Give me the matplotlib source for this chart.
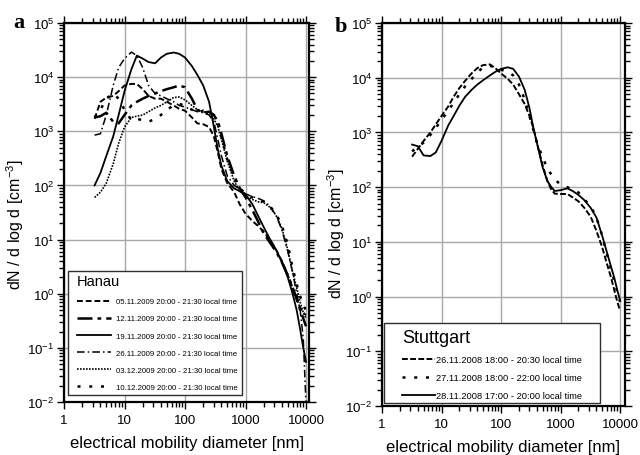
"""Particle number size distributions, Hanau (a) and Stuttgart (b)."""

import matplotlib
matplotlib.use("Agg")
import matplotlib.pyplot as plt
from matplotlib.patches import Rectangle

plt.rcParams["font.family"] = ["Liberation Sans", "DejaVu Sans"]
plt.rcParams["mathtext.fontset"] = "custom"
plt.rcParams["mathtext.rm"] = "Liberation Sans"

# --- panel a: Hanau -------------------------------------------------------
diam_a = [3.2, 4, 5, 6.5, 8, 10, 13, 16, 20, 25, 32, 40, 50, 65, 80, 100, 130,
          160, 200, 250, 300, 350, 400, 500, 650, 800, 1000, 1300, 1600, 2000,
          2500, 3200, 4000, 5000, 6000, 7000, 8000, 9000, 10000]

hanau_0511 = [1700, 3500, 4200, 4500, 5500, 7000, 7500, 7500, 6000, 4500, 4000,
              4000, 3500, 3000, 2600, 2400, 1800, 1400, 1350, 1200, 800, 400,
              200, 110, 75, 45, 30, 22, 18, 14, 10, 6.5, 4, 2.2, 1.3, 0.8,
              0.55, 0.45, 0.4]
hanau_1211 = [1800, 1900, 2200, 1500, 1400, 2000, 3000, 3500, 4000, 4500, 5000,
              5500, 6000, 6500, 7000, 6500, 4000, 2500, 2200, 2300, 2000, 1500,
              900, 350, 150, 90, 60, 35, 22, 13, 9, 6, 3.8, 2.2, 1.3, 0.8, 0.5,
              0.35, 0.25]
hanau_1911 = [100, 170, 350, 800, 2000, 5500, 14000, 25000, 22000, 19000, 18000,
              23000, 27000, 28500, 27000, 23000, 16000, 11000, 7000, 3500, 1200,
              450, 230, 120, 88, 78, 68, 45, 28, 17, 10.5, 6.5, 3.8, 2.0, 1.0,
              0.5, 0.22, 0.1, 0.055]
hanau_2611 = [850, 900, 2000, 7000, 15000, 22000, 29000, 25000, 15000, 7000,
              5000, 4500, 4000, 3500, 3000, 2800, 2500, 2300, 2200, 2000, 1500,
              700, 350, 150, 100, 85, 70, 62, 58, 52, 42, 28, 15, 6, 2.5, 1.0,
              0.5, 0.15, 0.009]
hanau_0312 = [60, 75, 110, 250, 600, 1200, 1800, 1900, 2000, 2300, 2700, 3000,
              3500, 4200, 4300, 3800, 3000, 2500, 2300, 2100, 1700, 1200, 700,
              280, 120, 80, 63, 55, 50, 48, 40, 28, 16, 6.5, 2.5, 1.3, 0.7,
              0.45, 0.35]
hanau_1012 = [1800, 2500, 4000, 5000, 4000, 2500, 1600, 1700, 1600, 1500, 1700,
              2000, 2500, 3000, 3200, 3000, 2500, 2200, 2400, 2200, 2000, 1400,
              800, 300, 140, 90, 70, 60, 55, 50, 42, 30, 18, 8, 3, 1.5, 0.9,
              0.6, 0.5]

labels_a = ["05.11.2009 20:00 - 21:30 local time",
            "12.11.2009 20:00 - 21:30 local time",
            "19.11.2009 20:00 - 21:30 local time",
            "26.11.2009 20:00 - 21:30 local time",
            "03.12.2009 20:00 - 21:30 local time",
            "10.12.2009 20:00 - 21:30 local time"]

# --- panel b: Stuttgart ---------------------------------------------------
diam_b = [3.2, 4, 5, 6.5, 8, 10, 13, 16, 20, 25, 32, 40, 50, 65, 80, 100, 130,
          160, 200, 250, 300, 350, 400, 500, 600, 700, 800, 1000, 1300, 1600,
          2000, 2500, 3200, 4000, 5000, 6000, 7000, 8000, 9000, 10000]

stutt_2611 = [360, 500, 700, 1000, 1400, 2000, 3000, 4500, 6500, 8800, 12000,
              15000, 17000, 17500, 15000, 12000, 9500, 7500, 5000, 3300, 2000,
              1200, 650, 250, 130, 90, 76, 75, 75, 65, 55, 42, 29, 16, 8, 4,
              2.3, 1.3, 0.8, 0.55]
stutt_2711 = [450, 550, 650, 900, 1200, 1700, 2500, 3500, 5000, 7000, 9500,
              12500, 15500, 16500, 15500, 14000, 13000, 11000, 7500, 4000,
              2000, 1100, 650, 350, 220, 170, 140, 110, 100, 90, 80, 60, 45,
              28, 13, 6, 3.2, 1.9, 1.2, 0.8]
stutt_2811 = [600, 560, 380, 370, 430, 700, 1350, 2000, 3100, 4500, 6000, 7500,
              9000, 11000, 12800, 14500, 15500, 14500, 10500, 6000, 2800, 1200,
              650, 230, 130, 100, 85, 88, 95, 85, 72, 58, 42, 28, 13, 6.5, 3.6,
              2.2, 1.3, 0.85]

labels_b = ["26.11.2008 18:00 - 20:30 local time",
            "27.11.2008 18:00 - 22:00 local time",
            "28.11.2008 17:00 - 20:00 local time"]

x_ticks = [1, 10, 100, 1000, 10000]
x_tick_labels = ["1", "10", "100", "1000", "10000"]


def style_axes(ax, xmax, ylab_xy):
    ax.set_xscale("log")
    ax.set_yscale("log")
    ax.set_xlim(1, xmax)
    ax.set_ylim(1e-2, 1e5)
    ax.set_xticks(x_ticks, labels=x_tick_labels)
    ax.set_yticks([10.0 ** k for k in range(-2, 6)])
    ax.grid(True, which="major", color="#a8a8a8", lw=1.0)
    ax.set_axisbelow(True)
    for s in ax.spines.values():
        s.set_linewidth(1.6)
    ax.tick_params(which="both", direction="out", top=True, right=True,
                   labelsize=9.5, width=1.0, colors="black")
    ax.tick_params(which="major", length=5)
    ax.tick_params(which="minor", length=3.5)
    ax.tick_params(axis="x", pad=4)
    ax.tick_params(axis="y", pad=2)
    ax.set_xlabel("electrical mobility diameter [nm]", fontsize=12, labelpad=6)
    ax.set_ylabel("dN / d log d [cm$^{-3}$]", fontsize=11.5)
    ax.yaxis.set_label_coords(*ylab_xy)


def boxed(fig, ax, leg, pads):
    """White box with a thin frame around a frameless legend (pads in px)."""
    fig.canvas.draw()
    bb = leg.get_window_extent()
    left, right, top, bottom = pads
    x0, y0 = bb.x0 - left, bb.y0 - bottom
    w, h = bb.width + left + right, bb.height + top + bottom
    fw, fh = fig.bbox.width, fig.bbox.height
    rect = Rectangle((x0 / fw, y0 / fh), w / fw, h / fh,
                     transform=fig.transFigure, facecolor="white",
                     edgecolor="#303030", lw=1.0, zorder=4.5, clip_on=False)
    ax.add_artist(rect)


fig = plt.figure(figsize=(6.4, 4.56), dpi=100)

# panel a
ax1 = fig.add_axes([64 / 640, 1 - 403 / 456, 245 / 640, 379 / 456])
style_axes(ax1, 11200, (-0.155, 0.47))
ax1.plot(diam_a, hanau_0511, color="black", lw=1.4, ls=(0, (3, 1.5)), label=labels_a[0])
ax1.plot(diam_a, hanau_1211, color="black", lw=1.8, ls=(0, (6, 2, 1.5, 2)), label=labels_a[1])
ax1.plot(diam_a, hanau_1911, color="black", lw=1.3, ls="-", label=labels_a[2])
ax1.plot(diam_a, hanau_2611, color="black", lw=1.1, ls=(0, (5, 2, 1, 2)), label=labels_a[3])
ax1.plot(diam_a, hanau_0312, color="black", lw=1.2, ls=(0, (1, 0.8)), label=labels_a[4])
ax1.plot(diam_a, hanau_1012, color="black", lw=1.8, ls=(0, (1.2, 3.5)), label=labels_a[5])
leg1 = ax1.legend(loc="upper left", bbox_to_anchor=(0.053, 0.337), title="Hanau",
                  fontsize=5.6, title_fontsize=10.5, alignment="left",
                  frameon=False, handlelength=4.4, handletextpad=0.6,
                  labelspacing=1.24, borderpad=0, borderaxespad=0)
boxed(fig, ax1, leg1, (9, 4, 3, 4))
fig.text(13 / 640, 1 - 28 / 456, "a", fontsize=16, fontweight="bold",
         family="Liberation Serif", va="baseline")

# panel b
ax2 = fig.add_axes([382 / 640, 1 - 407 / 456, 243 / 640, 383 / 456])
style_axes(ax2, 12100, (-0.144, 0.454))
ax2.plot(diam_b, stutt_2611, color="black", lw=1.4, ls=(0, (3, 1.2)), label=labels_b[0])
ax2.plot(diam_b, stutt_2711, color="black", lw=1.8, ls=(0, (1.2, 3.5)), label=labels_b[1])
ax2.plot(diam_b, stutt_2811, color="black", lw=1.3, ls="-", label=labels_b[2])
leg2 = ax2.legend(loc="upper left", bbox_to_anchor=(0.082, 0.2), title="Stuttgart",
                  fontsize=6.7, title_fontsize=13, alignment="left",
                  frameon=False, handlelength=3.6, handletextpad=0.1,
                  labelspacing=0.95, borderpad=0, borderaxespad=0)
boxed(fig, ax2, leg2, (18, 18, 6, 3))
fig.text(335 / 640, 1 - 32 / 456, "b", fontsize=16, fontweight="bold",
         family="Liberation Serif", va="baseline")

fig.savefig("out.png", dpi=100)
